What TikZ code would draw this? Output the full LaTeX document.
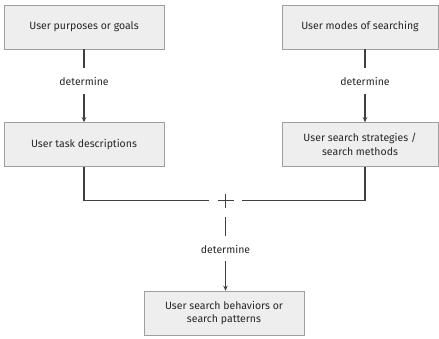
\documentclass[tikz,border=0pt]{standalone}
\usepackage{fontspec}
\setmainfont{Fira Sans}
\usetikzlibrary{arrows.meta,calc}
\begin{document}
\begin{tikzpicture}[x=1pt,y=-1pt,
  box/.style={draw=gray!75, line width=0.6pt, fill=gray!13, minimum height=44pt, align=center, inner sep=2pt, font=\fontsize{10.5}{13.5}\selectfont, text=black!85},
  conn/.style={draw=black!75, line width=1.2pt},
  arr/.style={conn, -{Stealth[length=5pt,width=4.5pt]}},
  lbl/.style={font=\fontsize{10.5}{12}\selectfont, text=black!85, inner sep=1pt}]
\path[use as bounding box] (0,0) rectangle (439,338);
\node[box, minimum width=160pt] (goals) at (84,27) {User purposes or goals};
\node[box, minimum width=156pt] (modes) at (360,27) {User modes of searching};
\node[box, minimum width=160pt] (task) at (84,144.5) {User task descriptions};
\node[box, minimum width=156pt] (strat) at (360,144.5) {User search strategies /\\search methods};
\node[box, minimum width=160pt] (behav) at (224,313) {User search behaviors or\\search patterns};
\node[lbl] (d1) at (84,81) {determine};
\node[lbl] (d2) at (365,81) {determine};
\node[lbl] (d3) at (225.5,249) {determine};
\coordinate (plus) at (225.5,200.5);
\coordinate (c1) at (84,68);
\coordinate (c2) at (84,94);
\coordinate (c3) at (365,68);
\coordinate (c4) at (365,94);
\coordinate (c5) at (209,200.5);
\coordinate (c6) at (242,200.5);
\coordinate (c7) at (225.5,217);
\coordinate (c8) at (225.5,236);
\coordinate (c9) at (225.5,261);
% verticals
\draw[conn] (goals.south -| c1) -- (c1);
\draw[arr] (c2) -- (task.north -| c2);
\draw[conn] (modes.south -| c3) -- (c3);
\draw[arr] (c4) -- (strat.north -| c4);
% joining lines
\draw[conn] (task.south) |- (c5);
\draw[conn] (strat.south -| c3) |- (c6);
\draw[conn] ($(plus)+(-8,0)$) -- ($(plus)+(8,0)$);
\draw[conn] ($(plus)+(0,-7)$) -- ($(plus)+(0,7)$);
\draw[conn] (c7) -- (c8);
\draw[arr] (c9) -- (behav.north -| c9);
\end{tikzpicture}
\end{document}
